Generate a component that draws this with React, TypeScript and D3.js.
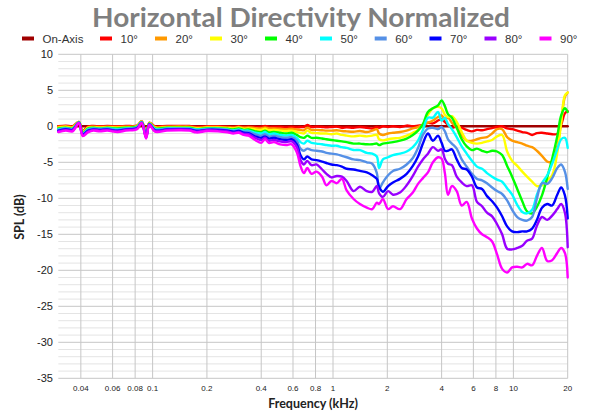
import React from "react";
import * as d3 from "d3";

const freqs = [0.030,0.033,0.036,0.039,0.041,0.044,0.047,0.051,0.056,0.064,
0.071,0.082,0.087,0.092,0.096,0.103,0.12,0.14,0.16,0.175,
0.2,0.23,0.26,0.28,0.30,0.32,0.34,0.37,0.40,0.42,
0.44,0.47,0.51,0.55,0.59,0.63,0.66,0.69,0.72,0.76,
0.81,0.87,0.92,0.98,1.05,1.12,1.19,1.30,1.41,1.54,
1.65,1.75,1.80,1.89,2.02,2.15,2.35,2.56,2.77,2.96,
3.15,3.36,3.58,3.82,4.0,4.17,4.34,4.56,4.85,5.17,
5.51,5.89,6.28,6.7,7.14,7.62,8.12,8.66,9.23,9.84,
10.5,11.2,11.9,12.7,13.5,14.4,15.4,16.4,17.5,18.4,
19.3,20];

const onAxisFreqs = [0.03, 20];
const onAxis = [0, 0];

const deg10 = [0,0.1,0,0.6,-0.6,0,0.05,0,0.05,0,
0.05,0.1,0.7,-1.0,0.5,0,0.05,0.05,0.05,-0.1,
0,0,-0.05,-0.1,0,-0.1,-0.05,-0.1,-0.1,0.05,
-0.1,-0.1,-0.1,-0.15,-0.1,-0.15,-0.1,-0.1,0.2,-0.1,
-0.05,-0.1,-0.15,-0.1,-0.05,-0.2,-0.15,-0.2,-0.1,-0.2,
-0.3,-0.1,-0.2,0,-0.1,0,-0.1,0.1,0,0.1,
0.2,0.5,0.4,0.8,1.0,0.6,0.2,-0.2,0,-0.2,
-0.5,-0.7,-0.5,-0.55,-0.4,-0.25,-0.1,0,-0.3,-0.4,
-0.6,-0.8,-0.9,-1.2,-0.95,-0.9,-1.0,-1.1,-1.05,0.2,
1.8,2.1];

const deg20 = [-0.1,0,-0.1,0.6,-0.7,-0.1,-0.05,-0.1,-0.05,-0.1,
-0.05,0.05,0.7,-1.1,0.45,-0.1,-0.05,-0.05,-0.05,-0.2,
-0.1,-0.1,-0.15,-0.2,-0.1,-0.2,-0.15,-0.25,-0.3,-0.15,
-0.3,-0.3,-0.35,-0.4,-0.35,-0.45,-0.5,-0.55,-0.2,-0.5,
-0.5,-0.55,-0.6,-0.6,-0.55,-0.65,-0.7,-0.75,-0.65,-0.8,
-0.6,-0.4,-1.0,-1.2,-1.0,-0.9,-0.8,-0.6,-0.3,-0.1,
0.2,0.5,0.8,1.3,1.5,1.0,1.2,0.5,-0.2,-1.2,
-2.0,-2.0,-1.8,-1.6,-1.5,-1.0,-0.4,-0.4,-1.5,-2.0,
-2.2,-2.4,-2.7,-2.9,-3.4,-4.1,-4.9,-4.9,-2.8,0.6,
4.1,4.7];

const deg30 = [-0.2,-0.1,-0.2,0.6,-0.8,-0.2,-0.15,-0.2,-0.15,-0.2,
-0.15,0,0.65,-1.2,0.45,-0.2,-0.15,-0.1,-0.15,-0.3,
-0.2,-0.2,-0.25,-0.3,-0.2,-0.35,-0.3,-0.45,-0.5,-0.35,
-0.55,-0.5,-0.6,-0.65,-0.6,-0.8,-0.9,-1.0,-0.6,-0.9,
-0.95,-1.0,-1.0,-1.1,-1.0,-1.2,-1.3,-1.4,-1.3,-1.4,
-1.3,-1.2,-1.8,-1.95,-1.8,-1.7,-1.6,-1.3,-0.9,-0.5,
0.2,1.6,2.5,2.7,2.5,1.6,1.3,1.4,0.6,-0.8,
-2.0,-2.3,-2.4,-2.3,-2.1,-1.9,-1.4,-1.2,-3.5,-4.8,
-5.5,-6.3,-7.0,-7.7,-8.3,-8.2,-7.5,-6.8,-3.7,0.5,
4.3,4.7];

const deg40 = [-0.3,-0.2,-0.3,0.55,-0.9,-0.3,-0.2,-0.3,-0.2,-0.3,
-0.2,-0.05,0.6,-1.25,0.4,-0.3,-0.2,-0.2,-0.2,-0.4,
-0.25,-0.3,-0.35,-0.45,-0.3,-0.5,-0.45,-0.7,-0.8,-0.6,
-0.85,-0.8,-0.9,-1.0,-0.9,-1.2,-1.5,-1.6,-1.3,-1.6,
-1.6,-1.7,-1.8,-1.9,-2.0,-2.1,-2.2,-2.4,-2.4,-2.5,
-2.5,-2.4,-2.6,-2.4,-2.3,-2.2,-2.0,-1.7,-1.2,-0.6,
0.3,2.0,2.5,2.9,3.6,2.8,1.7,1.2,-0.2,-1.8,
-2.8,-3.3,-3.1,-3.4,-3.6,-3.4,-3.5,-4.0,-5.5,-7.0,
-8.7,-10.4,-11.8,-12.1,-11.2,-9.6,-7.1,-4.5,-1.4,1.5,
2.5,2.0];

const deg50 = [-0.4,-0.25,-0.35,0.55,-1.0,-0.4,-0.3,-0.35,-0.3,-0.4,
-0.3,-0.1,0.6,-1.35,0.35,-0.35,-0.3,-0.25,-0.3,-0.45,
-0.35,-0.35,-0.45,-0.55,-0.45,-0.6,-0.6,-0.9,-1.0,-0.8,
-1.1,-1.0,-1.2,-1.3,-1.2,-1.6,-2.2,-2.4,-2.0,-2.3,
-2.4,-2.5,-2.6,-2.7,-2.7,-2.9,-3.0,-3.3,-3.3,-3.7,
-3.8,-4.2,-5.8,-4.6,-4.3,-4.0,-3.8,-3.5,-2.9,-2.0,
-0.5,1.2,1.2,2.0,0.8,1.2,0.3,-0.4,-1.5,-2.8,
-3.8,-4.8,-5.6,-5.9,-6.5,-7.0,-7.4,-7.7,-8.6,-9.5,
-10.9,-11.9,-12.1,-11.6,-9.5,-7.9,-6.8,-5.2,-3.2,-1.8,
-1.6,-3.0];

const deg60 = [-0.5,-0.3,-0.4,0.5,-1.05,-0.5,-0.35,-0.4,-0.35,-0.5,
-0.35,-0.15,0.55,-1.4,0.3,-0.45,-0.35,-0.3,-0.35,-0.55,
-0.4,-0.4,-0.5,-0.65,-0.55,-0.75,-0.75,-1.1,-1.3,-1.1,
-1.4,-1.3,-1.5,-1.6,-1.5,-2.0,-3.1,-3.4,-3.1,-3.3,
-3.4,-3.5,-3.7,-3.8,-3.9,-4.1,-4.3,-4.6,-4.7,-5.0,
-5.2,-6.5,-8.7,-7.8,-6.8,-6.2,-5.9,-5.3,-4.4,-3.0,
-1.2,-0.3,-0.2,-0.4,-0.1,-0.7,-1.8,-2.4,-3.1,-4.6,
-5.6,-6.6,-7.3,-7.5,-7.9,-8.5,-9.0,-9.4,-10.3,-11.6,
-12.6,-13.0,-13.1,-12.6,-10.0,-7.9,-8.0,-7.2,-5.8,-5.3,
-6.3,-8.7];

const deg70 = [-0.6,-0.4,-0.5,0.5,-1.15,-0.6,-0.45,-0.5,-0.45,-0.6,
-0.45,-0.25,0.5,-1.5,0.3,-0.55,-0.45,-0.4,-0.45,-0.65,
-0.5,-0.5,-0.6,-0.75,-0.65,-0.9,-0.95,-1.4,-1.6,-1.4,
-1.7,-1.6,-1.8,-1.9,-1.8,-2.5,-4.0,-4.6,-4.2,-4.6,
-4.7,-4.9,-5.1,-5.3,-5.4,-5.6,-5.9,-6.0,-6.2,-6.4,
-6.8,-7.3,-8.4,-9.1,-8.3,-7.8,-7.3,-6.6,-5.5,-4.2,
-2.4,-1.0,-2.0,-1.3,-2.3,-3.4,-3.4,-3.2,-4.6,-5.8,
-6.0,-7.0,-8.5,-8.7,-9.7,-10.4,-11.3,-12.5,-13.9,-14.6,
-14.7,-14.6,-14.6,-14.2,-13.0,-11.3,-10.8,-11.0,-9.5,-8.5,
-9.6,-12.8];

const deg80 = [-0.7,-0.5,-0.6,0.45,-1.25,-0.7,-0.5,-0.6,-0.5,-0.7,
-0.5,-0.3,0.5,-1.6,0.25,-0.65,-0.5,-0.45,-0.5,-0.75,
-0.55,-0.6,-0.7,-0.9,-0.8,-1.05,-1.1,-1.6,-1.9,-1.6,
-2.0,-1.9,-2.1,-2.2,-2.1,-2.9,-4.7,-5.3,-4.8,-5.4,
-5.3,-6.0,-6.6,-7.1,-6.9,-7.0,-7.6,-9.0,-8.4,-9.0,
-9.1,-8.3,-9.3,-9.8,-9.0,-9.5,-9.2,-8.2,-6.9,-5.6,
-4.6,-3.8,-2.9,-3.4,-3.2,-4.5,-5.2,-5.4,-7.0,-7.8,
-8.3,-8.2,-10.5,-11.1,-12.0,-12.5,-13.6,-15.0,-17.0,-17.1,
-16.9,-16.6,-15.9,-15.6,-13.8,-12.6,-13.0,-12.4,-11.5,-10.8,
-12.0,-16.8];

const deg90 = [-0.8,-0.6,-0.7,0.45,-1.35,-0.8,-0.6,-0.7,-0.6,-0.8,
-0.6,-0.4,0.45,-1.7,0.2,-0.75,-0.6,-0.55,-0.6,-0.85,
-0.65,-0.7,-0.85,-1.0,-0.9,-1.2,-1.3,-1.9,-2.3,-1.8,
-2.3,-2.2,-2.5,-2.6,-2.5,-3.6,-5.5,-6.5,-5.8,-6.6,
-6.3,-7.0,-8.2,-7.6,-7.9,-7.3,-8.9,-10.1,-10.8,-11.3,
-11.5,-10.6,-10.8,-10.1,-11.5,-11.1,-11.5,-10.1,-9.2,-8.0,
-7.2,-6.4,-5.0,-4.3,-4.5,-6.5,-9.5,-8.3,-9.0,-11.0,
-10.5,-12.8,-14.2,-15.0,-15.4,-16.0,-17.8,-19.8,-20.3,-19.6,
-19.5,-19.6,-19.1,-19.3,-18.0,-16.9,-18.7,-18.6,-17.6,-16.9,
-17.6,-21.0];

const seriesNames = ["On-Axis","10°","20°","30°","40°","50°","60°","70°","80°","90°"];
const seriesColors = ["#a00000","#ff0000","#ff9900","#ffff00","#00ff00","#00ffff","#5590e6","#0000ff","#9900ff","#ff00ff"];
const seriesValues = [onAxis, deg10, deg20, deg30, deg40, deg50, deg60, deg70, deg80, deg90];

const xTicks = [0.04,0.06,0.08,0.1,0.2,0.4,0.6,0.8,1,2,4,6,8,10,20];
const yTicks = [10,5,0,-5,-10,-15,-20,-25,-30,-35];

const W = 600, H = 420;
const L = 58.3, R = 567.7, T = 54.3, B = 378.3;

export default function App() {
  const x = d3.scaleLog().domain([0.03, 20]).range([L, R]);
  const y = d3.scaleLinear().domain([-35, 10]).range([B, T]);
  const line = d3.line<[number, number]>()
    .x(d => x(d[0]))
    .y(d => y(d[1]))
    .curve(d3.curveCatmullRom.alpha(0.5));
  const minorY = d3.range(-35, 11, 1);

  const legendMarkX = [22, 100, 155, 210, 265, 320, 374.7, 429.5, 484.5, 539.5];

  return (
    <svg width={W} height={H} style={{ position: "absolute", left: 0, top: 0, background: "#fff" }}
      fontFamily="'Liberation Sans', Arial, sans-serif">
      <text x={301} y={27} textAnchor="middle" fontFamily="Lato, 'Open Sans', sans-serif"
        fontWeight={700} fontSize={27} fill="#7f7f7f" textLength={418} lengthAdjust="spacingAndGlyphs">
        Horizontal Directivity Normalized
      </text>
      {seriesNames.map((n, i) => (
        <g key={n}>
          <rect x={legendMarkX[i]} y={36.5} width={12} height={4} fill={seriesColors[i]} />
          <text x={legendMarkX[i] + 20.5} y={42.5} fontSize={11.5} fill="#333">{n}</text>
        </g>
      ))}
      {minorY.map(v => (
        <line key={"gy" + v} x1={L} x2={R} y1={y(v)} y2={y(v)}
          stroke={v % 5 === 0 ? "#c6c6c6" : "#e4e4e4"} strokeWidth={1} />
      ))}
      {xTicks.map(t => (
        <line key={"gx" + t} x1={x(t)} x2={x(t)} y1={T} y2={B} stroke="#c6c6c6" strokeWidth={1} />
      ))}
      {seriesValues.map((vals, i) => {
        const fs = i === 0 ? onAxisFreqs : freqs;
        const pts: [number, number][] = fs.map((f, j) => [f, vals[j]]);
        return (
          <path key={"s" + i} d={line(pts) || ""} fill="none" stroke={seriesColors[i]}
            strokeWidth={2.4} strokeLinejoin="round" strokeLinecap="round" />
        );
      })}
      {yTicks.map(t => (
        <text key={"yt" + t} x={53} y={y(t)} dy="0.35em" textAnchor="end" fontSize={11} fill="#222">{t}</text>
      ))}
      {xTicks.map(t => (
        <text key={"xt" + t} x={x(t)} y={391} textAnchor="middle" fontSize={8} fill="#222">{t}</text>
      ))}
      <text x={313} y={408} textAnchor="middle" fontFamily="Lato, sans-serif" fontWeight={700} fontSize={12.5} fill="#222">
        Frequency (kHz)
      </text>
      <text transform={`translate(24,217) rotate(-90)`} textAnchor="middle" fontFamily="Lato, sans-serif"
        fontWeight={700} fontSize={12.5} fill="#222">SPL (dB)</text>
    </svg>
  );
}
